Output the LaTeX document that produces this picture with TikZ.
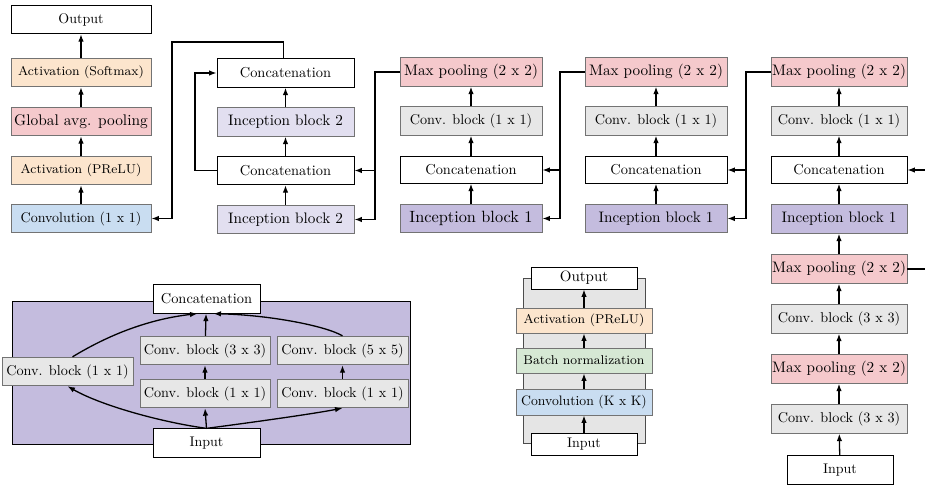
\documentclass[tikz,border=0pt]{standalone}
\usepackage{fontspec}
\setmainfont{lmroman10-regular.otf}
\newfontfamily\smallfam{lmroman8-regular.otf}
\usetikzlibrary{arrows.meta}
\definecolor{actF}{RGB}{252,229,205}
\definecolor{poolF}{RGB}{245,201,204}
\definecolor{convF}{RGB}{201,221,241}
\definecolor{incbF}{RGB}{226,223,240}
\definecolor{incaF}{RGB}{196,188,222}
\definecolor{grayF}{RGB}{231,231,231}
\definecolor{bnF}{RGB}{214,232,212}
\definecolor{modF}{RGB}{196,188,222}
\definecolor{blkF}{RGB}{229,229,229}
\newcommand\smtxt[1]{\scalebox{1.6}{\smallfam\fontsize{8}{9}\selectfont #1}}
\begin{document}
\begin{tikzpicture}[x=1pt,y=-1pt,
  box/.style={draw=black!55, line width=0.8pt, minimum width=140pt, minimum height=28.5pt, inner sep=0pt, font=\fontsize{14}{16}\selectfont},
  wbox/.style={box, draw=black, fill=white},
  actbox/.style={box, fill=actF},
  poolbox/.style={box, fill=poolF},
  convbox/.style={box, fill=convF},
  incb/.style={box, fill=incbF, font=\fontsize{15.2}{17}\selectfont},
  inca/.style={box, fill=incaF, font=\fontsize{15.2}{17}\selectfont},
  mpool/.style={poolbox, font=\fontsize{15.2}{17}\selectfont},
  gbox/.style={box, fill=grayF, font=\fontsize{14.2}{16}\selectfont},
  bnbox/.style={box, fill=bnF},
  cct/.style={wbox, font=\fontsize{14.4}{16}\selectfont},
  arr/.style={-{Latex[length=7.5pt,width=5.5pt]}, line width=1.3pt}
]
\useasboundingbox (0,0) rectangle (925,485);
\clip (0,0) rectangle (925,485);

% ---------- column 1
\node[wbox] (o1) at (81,19.5) {Output};
\node[actbox] (a1) at (81,72.5) {\smtxt{Activation (Softmax)}};
\node[poolbox, font=\fontsize{15.4}{18}\selectfont] (g1) at (81,121.5) {Global avg. pooling};
\node[actbox] (p1) at (81,170.5) {\smtxt{Activation (PReLU)}};
\node[convbox] (c1) at (81,218.5) {Convolution (1 x 1)};
\draw[arr] (a1) -- (o1);
\draw[arr] (g1) -- (a1);
\draw[arr] (p1) -- (g1);
\draw[arr] (c1) -- (p1);

% ---------- column 2
\node[cct, minimum width=137pt] (cc2a) at (285.5,73) {Concatenation};
\node[incb, minimum width=137pt] (ib2a) at (285.5,122) {Inception block 2};
\node[cct, minimum width=137pt] (cc2b) at (285.5,170.5) {Concatenation};
\node[incb, minimum width=137pt] (ib2b) at (285.5,219.5) {Inception block 2};
\draw[arr] (ib2b) -- (cc2b);
\draw[arr] (cc2b) -- (ib2a);
\draw[arr] (ib2a) -- (cc2a);
\coordinate (k1) at (172,42);
\draw[arr] ([xshift=-2pt]cc2a.north) |- (k1) |- (c1.east);
\coordinate (k2) at (195,73);
\draw[arr] (cc2b.west) -| (k2) -- (cc2a.west);

% ---------- column 3
\node[mpool, minimum width=142pt] (mp3) at (471,72) {Max pooling (2 x 2)};
\node[gbox, minimum width=142pt] (cb3) at (471,121) {Conv. block (1 x 1)};
\node[cct, minimum width=142pt, minimum height=26.5pt] (cc3) at (471,170) {Concatenation};
\node[inca, minimum width=142pt, font=\fontsize{16.3}{18}\selectfont] (ib3) at (471,218.5) {Inception block 1};
\draw[arr] (ib3) -- (cc3);
\draw[arr] (cc3) -- (cb3);
\draw[arr] (cb3) -- (mp3);
\coordinate (k3) at (375,219.5);
\draw[arr] (mp3.west) -| (k3) -- (ib2b.east);
\draw[arr] (k3 |- cc2b.east) -- (cc2b.east);

% ---------- column 4
\node[mpool, minimum width=142pt] (mp4) at (656,72) {Max pooling (2 x 2)};
\node[gbox, minimum width=142pt] (cb4) at (656,121) {Conv. block (1 x 1)};
\node[cct, minimum width=142pt, minimum height=26.5pt] (cc4) at (656,170) {Concatenation};
\node[inca, minimum width=142pt] (ib4) at (656,218.5) {Inception block 1};
\draw[arr] (ib4) -- (cc4);
\draw[arr] (cc4) -- (cb4);
\draw[arr] (cb4) -- (mp4);
\coordinate (k4) at (560,218.5);
\draw[arr] (mp4.west) -| (k4) -- (ib3.east);
\draw[arr] (k4 |- cc3.east) -- (cc3.east);

% ---------- column 5
\node[mpool, minimum width=136pt] (mp5) at (839,72) {Max pooling (2 x 2)};
\node[gbox, minimum width=136pt] (cb5) at (839,121) {Conv. block (1 x 1)};
\node[cct, minimum width=136pt, minimum height=26.5pt] (cc5) at (839,170) {Concatenation};
\node[inca, minimum width=136pt] (ib5) at (839,219) {Inception block 1};
\node[mpool, minimum width=136pt] (mp5b) at (839,269) {Max pooling (2 x 2)};
\node[gbox, minimum width=136pt] (cb5b) at (839,319) {Conv. block (3 x 3)};
\node[mpool, minimum width=136pt] (mp5c) at (839,369) {Max pooling (2 x 2)};
\node[gbox, minimum width=136pt] (cb5c) at (839,419) {Conv. block (3 x 3)};
\node[wbox, minimum width=106pt] (in5) at (840,470) {Input};
\draw[arr] (ib5) -- (cc5);
\draw[arr] (cc5) -- (cb5);
\draw[arr] (cb5) -- (mp5);
\draw[arr] (mp5b) -- (ib5);
\draw[arr] (cb5b) -- (mp5b);
\draw[arr] (mp5c) -- (cb5b);
\draw[arr] (cb5c) -- (mp5c);
\draw[arr] (in5) -- (cb5c);
\coordinate (k5) at (746,218.5);
\draw[arr] (mp5.west) -| (k5) -- (ib4.east);
\draw[arr] (k5 |- cc4.east) -- (cc4.east);
\coordinate (k6) at (940,269);
\draw[arr] (mp5b.east) -- (k6) |- (cc5.east);

% ---------- inception module (bottom left)
\node[draw=black, line width=1pt, fill=modF, minimum width=398pt, minimum height=143pt, inner sep=0pt] (bgA) at (211,372.5) {};
\node[cct, minimum width=107pt] (ccA) at (206.5,299) {Concatenation};
\node[gbox, minimum width=131pt] (L1) at (67.5,371.5) {Conv. block (1 x 1)};
\node[gbox, minimum width=130pt] (C3) at (205,350.5) {Conv. block (3 x 3)};
\node[gbox, minimum width=131pt] (C5) at (342.5,350.5) {Conv. block (5 x 5)};
\node[gbox, minimum width=130pt] (M1) at (205,393.5) {Conv. block (1 x 1)};
\node[gbox, minimum width=131pt] (R1) at (342.5,393.5) {Conv. block (1 x 1)};
\node[wbox, minimum width=107pt] (inA) at (206.5,443) {Input};
\draw[arr] (inA.north) -- (M1.south);
\draw[arr] (M1) -- (C3);
\draw[arr] (C3) -- (ccA);
\draw[arr] (R1) -- (C5);
\draw[arr] (inA.north) .. controls (160,422) and (100,405) .. (L1.south);
\draw[arr] (inA.north) .. controls (255,422) and (312,414) .. (R1.south);
\draw[arr] ([xshift=5pt]L1.north) .. controls (110,334) and (150,319) .. ([xshift=-9pt]ccA.south);
\draw[arr] (C5.north) .. controls (326,326) and (270,315) .. ([xshift=7pt]ccA.south);

% ---------- conv block (bottom middle)
\node[draw=black!70, line width=0.9pt, fill=blkF, minimum width=122pt, minimum height=165pt, inner sep=0pt] (bgB) at (584,360.5) {};
\node[wbox, minimum width=106pt, minimum height=22pt, font=\fontsize{15}{16}\selectfont] (outB) at (584,278) {Output};
\node[actbox, minimum width=136pt, minimum height=25pt] (actB) at (584,320.5) {\smtxt{Activation (PReLU)}};
\node[bnbox, minimum width=136pt, minimum height=25pt] (bnB) at (584,360.5) {\smtxt{Batch normalization}};
\node[convbox, minimum width=136pt, minimum height=26pt, font=\fontsize{13.7}{16}\selectfont] (cvB) at (584,402) {Convolution (K x K)};
\node[wbox, minimum width=106pt, minimum height=22pt] (inB) at (584,444) {Input};
\draw[arr] (inB) -- (cvB);
\draw[arr] (cvB) -- (bnB);
\draw[arr] (bnB) -- (actB);
\draw[arr] (actB) -- (outB);
\end{tikzpicture}
\end{document}
